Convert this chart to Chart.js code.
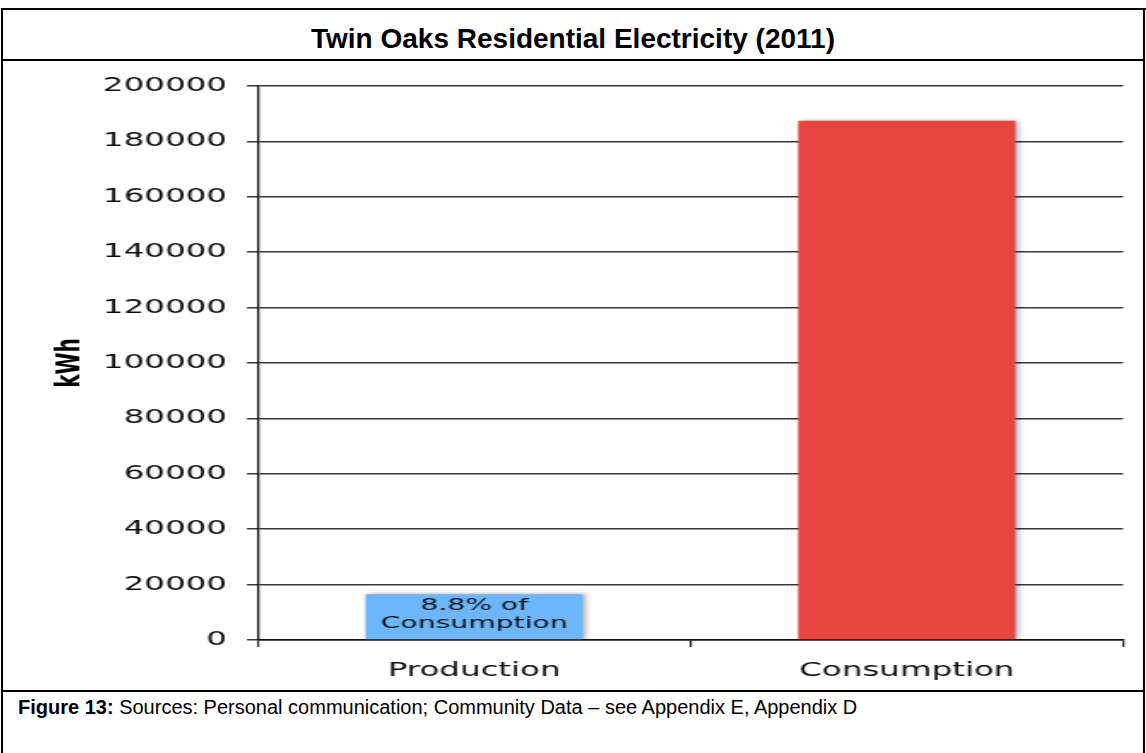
<!DOCTYPE html>
<html><head><meta charset="utf-8">
<script src="https://cdn.jsdelivr.net/npm/chart.js@4.4.1/dist/chart.umd.min.js"></script>
<style>
html,body{margin:0;padding:0;background:#fff;}
body{width:1146px;height:753px;position:relative;overflow:hidden;font-family:"Liberation Sans",Arial,sans-serif;}
.ln{position:absolute;background:#000;}
#title{position:absolute;left:3px;top:12px;width:1140px;height:46px;line-height:54px;text-align:center;font-weight:bold;font-size:28px;color:#000;}
#caption{position:absolute;left:18px;top:694px;font-size:20px;line-height:26px;color:#000;white-space:nowrap;}
#wrap{position:absolute;left:4px;top:60px;width:666px;height:631px;transform:scaleX(1.71);transform-origin:0 0;}
</style></head><body>
<div class="ln" style="left:1px;top:8px;width:1145px;height:2px"></div>
<div class="ln" style="left:1px;top:8px;width:2px;height:745px"></div>
<div class="ln" style="left:1143px;top:8px;width:2px;height:745px"></div>
<div class="ln" style="left:1px;top:59px;width:1144px;height:2px"></div>
<div class="ln" style="left:1px;top:690px;width:1144px;height:2px"></div>
<div id="title">Twin Oaks Residential Electricity (2011)</div>
<div id="wrap"><canvas id="c" width="666" height="630"></canvas></div>
<div id="caption"><b>Figure 13:</b> Sources: Personal communication; Community Data – see Appendix E, Appendix D</div>
<script>
const categories = ['Production', 'Consumption'];
const kwh = [16500, 187500];
const yTickValues = [0, 20000, 40000, 60000, 80000, 100000, 120000, 140000, 160000, 180000, 200000];
const barNotes = [['8.8% of', 'Consumption'], []];
const yAxisTitle = 'kWh';

const shadowPlugin = {
  id: 'barShadow',
  beforeDatasetsDraw(chart) {
    const c = chart.ctx; c.save();
    c.shadowColor = 'rgba(0,0,0,0.35)'; c.shadowBlur = 4; c.shadowOffsetX = 2; c.shadowOffsetY = 0;
  },
  afterDatasetsDraw(chart) { chart.ctx.restore(); }
};
const notesPlugin = {
  id: 'barNotes',
  afterDatasetsDraw(chart) {
    const ctx = chart.ctx;
    const meta = chart.getDatasetMeta(0);
    ctx.save();
    ctx.font = '16.5px "DejaVu Sans"';
    ctx.fillStyle = '#111';
    ctx.textAlign = 'center';
    ctx.textBaseline = 'middle';
    meta.data.forEach((bar, i) => {
      (barNotes[i] || []).forEach((line, k) => ctx.fillText(line, bar.x, bar.y + 11 + k * 18));
    });
    ctx.restore();
  }
};

new Chart(document.getElementById('c'), {
  type: 'bar',
  data: {
    labels: categories,
    datasets: [{
      data: kwh,
      backgroundColor: ['#6DB6FB', '#E5463F'],
      borderWidth: 0,
      categoryPercentage: 1,
      barPercentage: 0.502
    }]
  },
  options: {
    responsive: false,
    animation: false,
    layout: { padding: { top: 26, right: 11.6, bottom: 0, left: 0 } },
    plugins: { legend: { display: false }, tooltip: { enabled: false } },
    scales: {
      x: {
        offset: true,
        grid: { display: true, offset: true, drawOnChartArea: false, drawTicks: true, tickLength: 7, color: '#222', lineWidth: 1.2 },
        border: { display: true, color: '#111', width: 1.5 },
        ticks: { padding: 13, color: '#0d0d0d', font: { family: 'DejaVu Sans', size: 19 } },
        afterFit: s => { s.height = 50; }
      },
      y: {
        min: 0, max: 200000,
        afterBuildTicks: s => { s.ticks = yTickValues.map(v => ({ value: v })); },
        grid: { color: '#383838', lineWidth: 1.5, tickLength: 6.4, drawTicks: true },
        border: { display: true, color: '#111', width: 1.3 },
        ticks: { padding: 11.7, color: '#0d0d0d', font: { family: 'DejaVu Sans', size: 19 }, callback: v => String(v) },
        title: { display: true, text: yAxisTitle, color: '#000', font: { family: 'DejaVu Sans', size: 20, weight: 'bold' }, padding: { top: 27, bottom: 0 } },
        afterFit: s => { s.width = 148.5; }
      }
    }
  },
  plugins: [shadowPlugin, notesPlugin]
});
</script>
</body></html>
